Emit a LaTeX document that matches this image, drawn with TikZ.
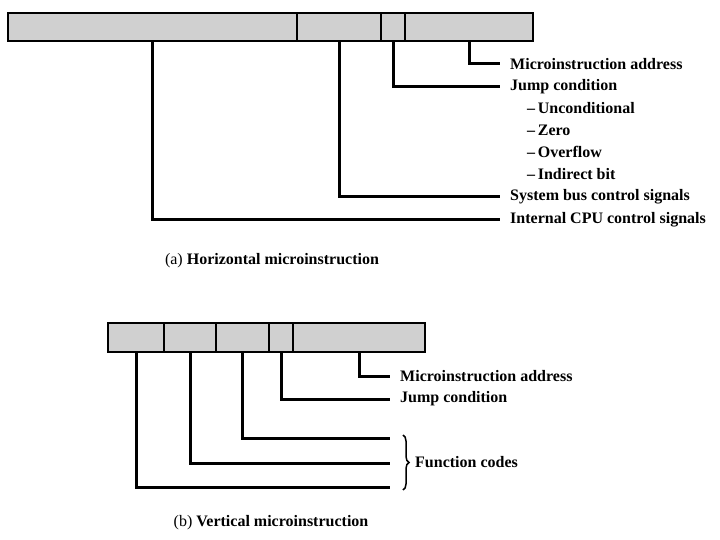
\documentclass[tikz,border=0pt]{standalone}
\usepackage{fontspec}
\setmainfont{Liberation Serif}
\usepackage{tikz}
\usetikzlibrary{positioning,decorations.pathreplacing}
\definecolor{fieldgray}{HTML}{D0D0D0}
\tikzset{
  field/.style={draw=black, fill=fieldgray, line width=2.8pt, inner sep=0pt, outer sep=0pt},
  conn/.style={draw=black, line width=3pt},
  fieldLabel/.style={anchor=west, inner xsep=10pt, inner ysep=0pt, font=\fontsize{16}{19}\selectfont\bfseries},
  subLabel/.style={anchor=west, inner sep=0pt, font=\fontsize{16}{19}\selectfont\bfseries},
  capLabel/.style={inner sep=0pt, font=\fontsize{16}{19}\selectfont\bfseries},
  brc/.style={draw=black, decorate, decoration={brace, amplitude=6pt}, line width=1.5pt}
}

\begin{document}
\begin{tikzpicture}[x=1pt, y=-1pt]
  \useasboundingbox (0,0) rectangle (720,540);

  % (a) horizontal format
  \node[field, minimum width=289, minimum height=28, anchor=north west] (hA) at (8,13) {};
  \node[field, minimum width=84, minimum height=28, right=0pt of hA] (hB) {};
  \node[field, minimum width=24, minimum height=28, right=0pt of hB] (hC) {};
  \node[field, minimum width=128, minimum height=28, right=0pt of hC] (hD) {};

  \node[fieldLabel] (hAddr) at (500,64) {Microinstruction address};
  \node[fieldLabel] (hJump) at (500,87) {Jump condition};
  \node[subLabel] (hUncond) at (527,108) {\textendash\,Unconditional};
  \node[subLabel] (hZero) at (527,130) {\textendash\,Zero};
  \node[subLabel] (hOver) at (527,152) {\textendash\,Overflow};
  \node[subLabel] (hInd) at (527,174) {\textendash\,Indirect bit};
  \node[fieldLabel] (hBus) at (500,197) {System bus control signals};
  \node[fieldLabel] (hCpu) at (500,220) {Internal CPU control signals};

  \draw[conn] (hD.south) |- (hAddr.west);
  \draw[conn] (hC.south) |- (hJump.west);
  \draw[conn] (hB.south) |- (hBus.west);
  \draw[conn] (hA.south) |- (hCpu.west);

  \node[capLabel] (capA) at (272,261) {\textmd{(a)} Horizontal microinstruction};

  % (b) vertical format
  \node[field, minimum width=56, minimum height=29, anchor=north west] (vA) at (108,323) {};
  \node[field, minimum width=52, minimum height=29, right=0pt of vA] (vB) {};
  \node[field, minimum width=53, minimum height=29, right=0pt of vB] (vC) {};
  \node[field, minimum width=24, minimum height=29, right=0pt of vC] (vD) {};
  \node[field, minimum width=132, minimum height=29, right=0pt of vD] (vE) {};

  \node[fieldLabel] (vAddr) at (390,376) {Microinstruction address};
  \node[fieldLabel] (vJump) at (390,399) {Jump condition};
  \coordinate (fc1) at (390,438);
  \coordinate (fc2) at (390,463);
  \coordinate (fc3) at (390,487);

  \draw[conn] (vE.south) |- (vAddr.west);
  \draw[conn] (vD.south) |- (vJump.west);
  \draw[conn] (vC.south) |- (fc1);
  \draw[conn] (vB.south) |- (fc2);
  \draw[conn] (vA.south) |- (fc3);

  \coordinate (brTop) at (403,435);
  \coordinate (brBot) at (403,490);
  \draw[brc] (brTop) -- (brBot);
  \node[subLabel] (vFunc) at (415,462) {Function codes};

  \node[capLabel] (capB) at (271,523) {\textmd{(b)} Vertical microinstruction};
\end{tikzpicture}
\end{document}
